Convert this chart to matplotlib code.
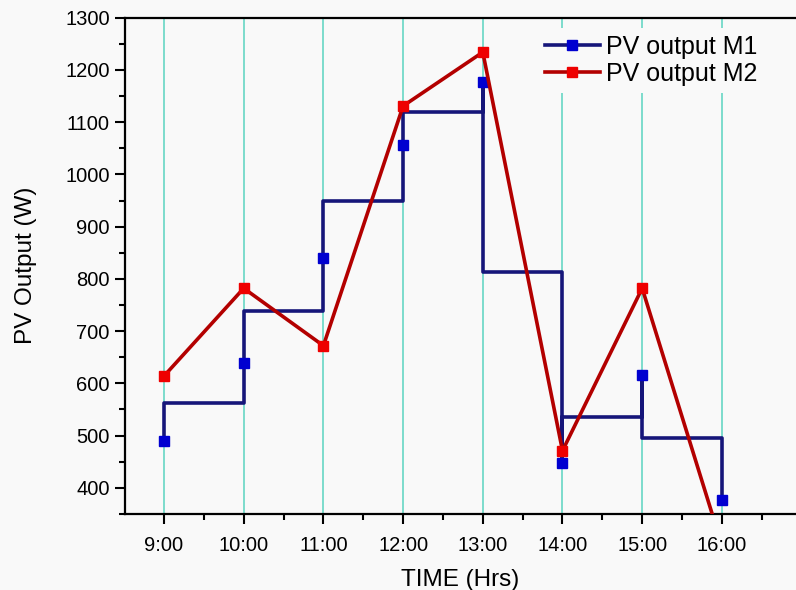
import matplotlib
matplotlib.use("Agg")
import matplotlib.pyplot as plt
from matplotlib.ticker import MultipleLocator

plt.rcParams['font.family'] = ['Liberation Sans', 'DejaVu Sans']

hours = [9, 10, 11, 12, 13, 14, 15, 16]
hour_labels = ['9:00', '10:00', '11:00', '12:00', '13:00', '14:00', '15:00', '16:00']
m1_points = [489, 638, 840, 1057, 1177, 448, 616, 377]
m1_levels = [562, 738, 950, 1119, 814, 535, 496]
m2_points = [614, 782, 672, 1131, 1234, 471, 782, 290]

# build stepped path for M1
xs = [hours[0]]
ys = [m1_points[0]]
for i in range(len(hours) - 1):
    xs += [hours[i], hours[i + 1], hours[i + 1]]
    ys += [m1_levels[i], m1_levels[i], m1_points[i + 1]]

bg = '#f9f9f9'
fig = plt.figure(figsize=(7.96, 5.90), dpi=100, facecolor=bg)
ax = fig.add_axes([0.157, 0.129, 0.843, 0.841])
ax.set_facecolor(bg)

for h in hours:
    ax.axvline(h, color='#72d9c9', lw=1.3, zorder=1)

lw = 2.6
ms = 7.5
ax.plot(xs, ys, color='#16167a', lw=lw, zorder=3)
ax.plot(hours, m1_points, ls='none', marker='s', ms=ms, color='#0000d0', zorder=4)
ax.plot(hours, m2_points, color='#b30000', lw=lw, zorder=5)
ax.plot(hours, m2_points, ls='none', marker='s', ms=ms, color='#ee0000', zorder=6)

# legend proxies
ax.plot([], [], color='#16167a', lw=lw, marker='s', ms=ms, mfc='#0000d0', mec='#0000d0', label='PV output M1')
ax.plot([], [], color='#b30000', lw=lw, marker='s', ms=ms, mfc='#ee0000', mec='#ee0000', label='PV output M2')
leg = ax.legend(loc='upper right', bbox_to_anchor=(0.972, 1.005), fontsize=18, frameon=True,
                facecolor=bg, edgecolor='none', framealpha=1, handlelength=2.2,
                handletextpad=0.25, labelspacing=0.1, borderpad=0.3)
leg.set_zorder(10)

ax.set_xlim(8.51, 16.93)
ax.set_ylim(350, 1300)
ax.set_xticks(hours)
ax.set_xticklabels(hour_labels)
ax.xaxis.set_minor_locator(MultipleLocator(0.5))
ax.yaxis.set_major_locator(MultipleLocator(100))
ax.yaxis.set_minor_locator(MultipleLocator(50))
ax.set_yticks(range(400, 1301, 100))

ax.tick_params(axis='both', which='major', direction='out', length=7, width=1.5, labelsize=14.5, pad=4)
ax.tick_params(axis='both', which='minor', direction='out', length=4.5, width=1.5)
ax.tick_params(axis='x', which='major', pad=9)

for s in ['left', 'bottom', 'top']:
    ax.spines[s].set_linewidth(1.6)
ax.spines['right'].set_visible(False)

ax.set_xlabel('TIME (Hrs)', fontsize=17.5, labelpad=10)
ax.set_ylabel('PV Output (W)', fontsize=17.5, labelpad=20)

fig.savefig('out.png', dpi=100, facecolor=bg)
